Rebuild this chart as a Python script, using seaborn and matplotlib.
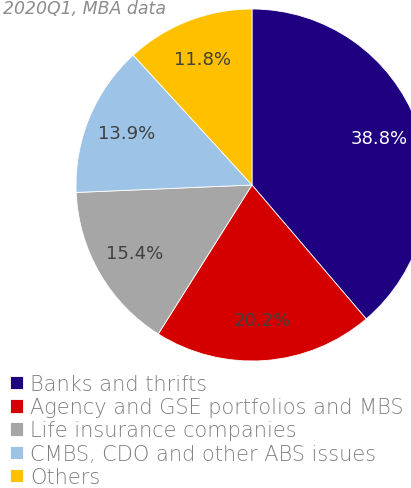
import matplotlib
matplotlib.use("Agg")
import matplotlib.pyplot as plt
import seaborn as sns

categories = [
    "Banks and thrifts",
    "Agency and GSE portfolios and MBS",
    "Life insurance companies",
    "CMBS, CDO and other ABS issues",
    "Others",
]
shares = [38.8, 20.2, 15.4, 13.9, 11.8]
colors = ["#1E0080", "#D40000", "#A6A6A6", "#9DC3E6", "#FFC000"]
label_colors = ["white", "#404040", "#404040", "#404040", "#404040"]

sns.set_theme(style="white")
plt.rcParams["font.family"] = ["DejaVu Sans"]
palette = sns.color_palette(colors)

fig = plt.figure(figsize=(4.11, 4.89), dpi=100)
W, H = 411, 489
# pie box in pixels: left 76, top 10, size 352
ax = fig.add_axes([76 / W, (H - 362) / H, 352 / W, 352 / H])

wedges, texts, autotexts = ax.pie(
    shares,
    colors=palette,
    startangle=90,
    counterclock=False,
    autopct="%.1f%%",
    pctdistance=0.77,
    radius=1.0,
    wedgeprops=dict(linewidth=0.6, edgecolor="white"),
    textprops=dict(fontsize=13),
)
for t, c in zip(autotexts, label_colors):
    t.set_color(c)
ax.set_xlim(-1, 1)
ax.set_ylim(-1, 1)
ax.axis("off")

fig.text(3 / W, 1 - 14 / H, "2020Q1, MBA data", ha="left", va="baseline",
         fontsize=12.5, style="italic", fontweight="light", color="#8c8c8c")

leg = fig.legend(
    wedges, categories,
    loc="upper left", bbox_to_anchor=(6 / W, 1 - 371 / H),
    frameon=False, prop=dict(size=15, weight="light"),
    handlelength=0.6, handleheight=0.6, handletextpad=0.35,
    labelspacing=0.15, borderaxespad=0, borderpad=0.2,
)
for t in leg.get_texts():
    t.set_color("#7f7f7f")

fig.savefig("out.png", dpi=100)
